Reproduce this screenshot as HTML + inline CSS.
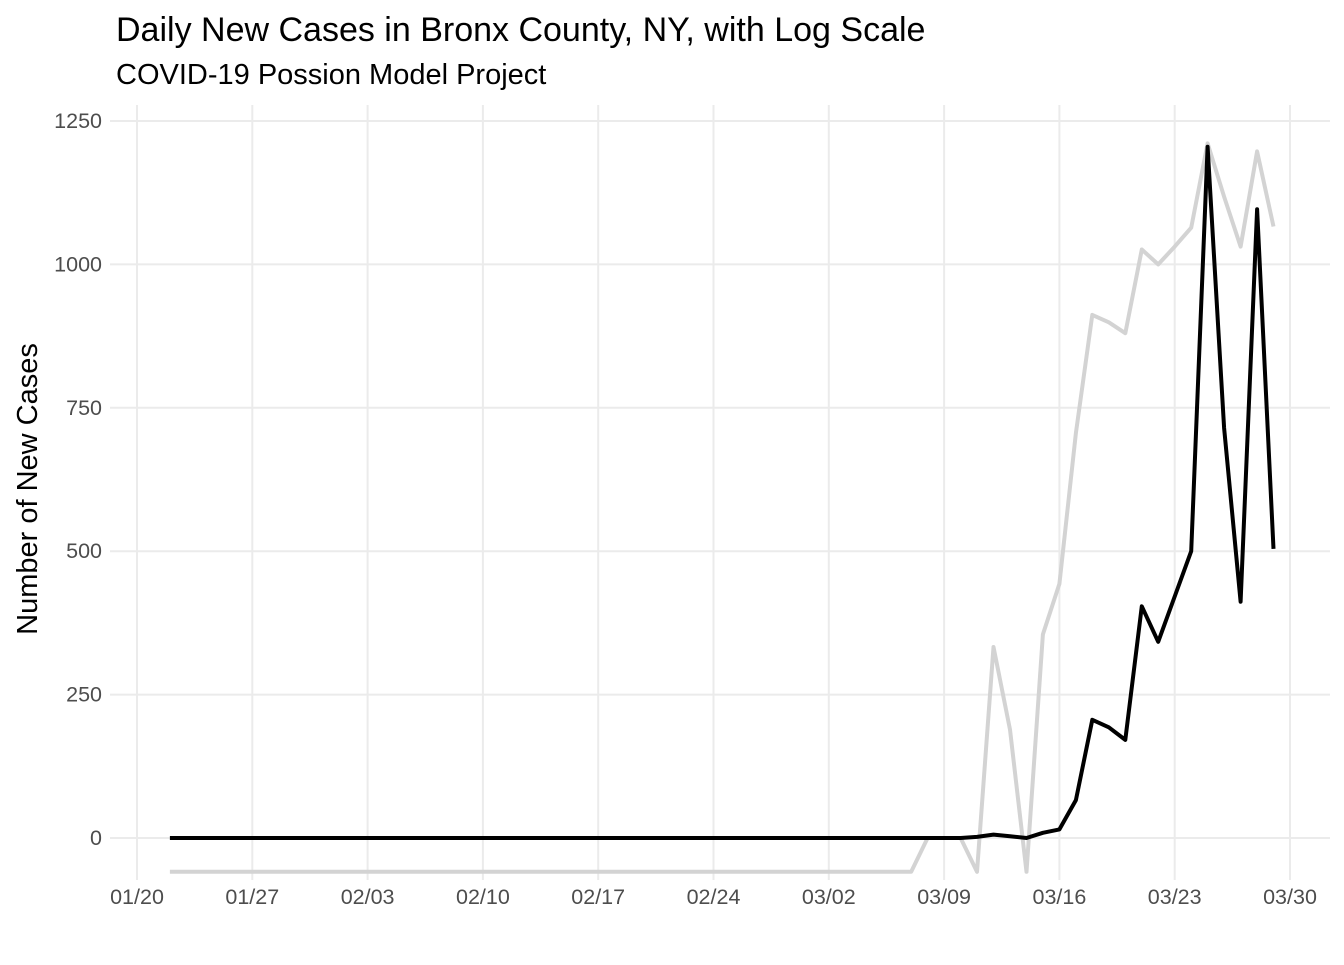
<!DOCTYPE html>
<html><head><meta charset="utf-8"><style>
body{margin:0;background:#fff;}
svg text{font-family:"Liberation Sans",Arial,sans-serif;}
</style></head><body>
<svg id="chart" width="1344" height="960" xmlns="http://www.w3.org/2000/svg">
<text x="116" y="41" font-size="34" fill="#000">Daily New Cases in Bronx County, NY, with Log Scale</text>
<text x="116" y="84" font-size="29" fill="#000">COVID-19 Possion Model Project</text>
<text transform="translate(37,489) rotate(-90)" text-anchor="middle" font-size="29" fill="#000">Number of New Cases</text>
<g id="grid"></g><g id="ticks"></g><g id="series"></g>
</svg>
<script>
const yTicks=[0,250,500,750,1000,1250];
const xTickLabels=["01/20","01/27","02/03","02/10","02/17","02/24","03/02","03/09","03/16","03/23","03/30"];
const startDayOffset=2; // first point is 01/22, two days after 01/20
const grayTail=[0,0,0,-59,333,189,-59,355,443,706,912,899,880,1026,1000,1031,1064,1211,1118,1031,1197,1066];
const blackTail=[2,6,3,0,9,15,66,206,193,171,404,342,421,500,1205,715,412,1096,504];
const nPoints=68;
const grayLead=-59, blackLead=0;
const NS="http://www.w3.org/2000/svg";
const x0=137, pxPerDay=(1290-137)/70;
const xs=d=>x0+d*pxPerDay;
const ys=v=>838-v*(717/1250);
const grid=document.getElementById('grid'),ticks=document.getElementById('ticks'),ser=document.getElementById('series');
function mk(tag,attrs,parent){const e=document.createElementNS(NS,tag);for(const k in attrs)e.setAttribute(k,attrs[k]);parent.appendChild(e);return e;}
yTicks.forEach(v=>{
  const l=mk('line',{x1:110,x2:1330,y1:ys(v),y2:ys(v),stroke:'#ebebeb','stroke-width':2},grid);
  
  
  const t=mk('text',{x:102,y:ys(v)+7,'text-anchor':'end','font-size':21.5,fill:'#4d4d4d'},ticks);
  t.textContent=v;
  
  
});
xTickLabels.forEach((s,i)=>{
  const x=xs(i*7);
  const l=mk('line',{x1:x,x2:x,y1:105,y2:880,stroke:'#ebebeb','stroke-width':2},grid);
  
  
  const t=mk('text',{x:x,y:904,'text-anchor':'middle','font-size':21.5,fill:'#4d4d4d'},ticks);
  t.textContent=s;
  
  
});
function full(lead,tail){const a=[];for(let i=0;i<nPoints-tail.length;i++)a.push(lead);return a.concat(tail);}
function draw(vals,color,name){
  const pts=vals.map((v,i)=>xs(i+startDayOffset).toFixed(1)+','+ys(v).toFixed(1)).join(' ');
  const p=mk('polyline',{points:pts,fill:'none',stroke:color,'stroke-width':4,'stroke-linejoin':'round'},ser);
  
  
}
draw(full(grayLead,grayTail),'#d3d3d3','log-scale-line');
draw(full(blackLead,blackTail),'#000000','new-cases-line');
</script>
</body></html>
